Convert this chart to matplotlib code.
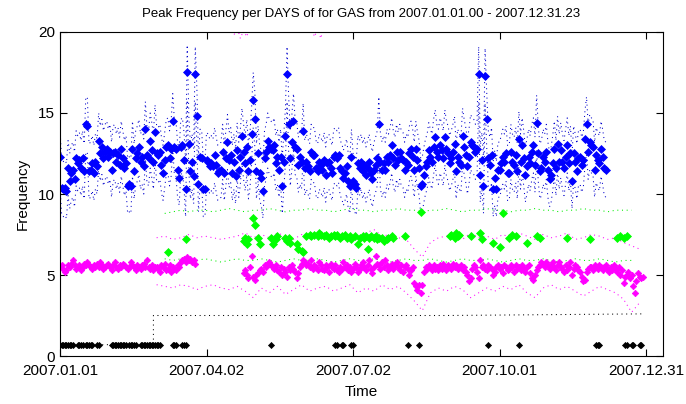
import numpy as np
import matplotlib
matplotlib.use("Agg")
import matplotlib.pyplot as plt

# x axis is day-of-year 2007 (day 0 = 2007.01.01)
tick_days = [0, 91, 182, 273, 364]
tick_labels = ["2007.01.01", "2007.04.02", "2007.07.02", "2007.10.01", "2007.12.31"]

# blue: one value per day, day 0..339
blue_vals = [
    12.3, 10.4, 10.3, 10.4, 10.2, 11.6, 10.8, 11.3, 11.5, 10.9,
    12.2, 11.9, 12.1, 11.6, 12.2, 11.4, 14.3, 14.2, 11.4, 11.5,
    11.9, 11.3, 12.0, 11.7, 13.3, 12.5, 12.9, 12.2, 12.6, 12.8,
    12.3, 12.6, 11.5, 12.5, 12.6, 12.0, 12.4, 11.8, 12.8, 12.2,
    11.6, 11.9, 10.5, 10.6, 10.5, 12.8, 11.4, 12.2, 12.5, 12.9,
    12.0, 12.3, 11.7, 14.0, 12.4, 12.2, 13.3, 12.7, 12.0, 13.8,
    12.5, 12.4, 12.6, 11.8, 11.3, 12.1, 12.9, 13.0, 12.2, 12.8,
    14.5, 12.9, 12.8, 11.5, 11.0, 12.9, 13.0, 12.1, 10.3, 17.5,
    13.1, 11.4, 12.0, 11.1, 17.4, 14.8, 10.6, 12.3, 12.2, 10.3,
    10.3, 12.1, 12.0, 11.7, 11.9, 11.7, 12.4, 11.8, 11.3, 11.4,
    11.5, 12.6, 11.3, 12.2, 13.2, 12.1, 12.4, 11.3, 12.0, 11.1,
    12.7, 11.5, 12.3, 13.6, 12.6, 11.9, 12.9, 11.4, 12.1, 13.7,
    15.8, 14.6, 11.4, 12.5, 11.3, 11.0, 10.2, 12.2, 12.6, 13.3,
    12.9, 12.8, 12.7, 13.0, 11.9, 12.3, 11.5, 12.3, 10.5, 12.0,
    13.6, 17.4, 14.3, 12.2, 13.2, 14.5, 12.9, 12.8, 11.8, 12.3,
    12.0, 13.9, 11.6, 12.0, 11.7, 11.4, 12.6, 12.4, 12.4, 11.6,
    11.4, 12.0, 11.8, 11.5, 12.1, 11.2, 11.9, 12.0, 11.6, 11.3,
    12.3, 12.4, 12.2, 12.4, 11.6, 11.4, 11.0, 11.3, 11.7, 10.8,
    10.5, 12.3, 10.8, 10.6, 10.4, 11.9, 11.6, 12.0, 11.4, 11.8,
    11.2, 11.6, 12.0, 11.3, 10.9, 11.5, 11.8, 12.2, 14.3, 12.0,
    11.5, 11.9, 11.5, 12.3, 12.0, 12.4, 13.0, 12.2, 11.8, 12.6,
    12.1, 12.6, 12.2, 12.1, 11.5, 12.0, 11.8, 12.5, 12.8, 12.3,
    11.5, 12.8, 12.1, 11.6, 10.5, 10.6, 11.2, 11.7, 12.0, 12.7,
    12.3, 12.0, 12.9, 13.5, 12.6, 12.3, 13.0, 12.7, 12.2, 13.5,
    12.8, 12.5, 11.9, 12.2, 12.6, 13.1, 11.4, 12.3, 12.0, 11.8,
    13.6, 12.9, 12.4, 11.7, 12.3, 13.2, 13.0, 12.9, 12.6, 12.8,
    17.4, 11.2, 12.1, 10.5, 17.3, 14.6, 12.2, 11.8, 12.4, 10.3,
    11.0, 10.3, 11.5, 11.5, 11.9, 12.3, 12.0, 12.5, 11.3, 11.3,
    12.6, 12.0, 11.8, 12.4, 11.4, 13.4, 12.0, 13.0, 12.2, 11.2,
    11.7, 12.3, 11.9, 12.6, 13.0, 11.8, 14.4, 12.5, 11.4, 11.6,
    12.3, 12.0, 12.6, 11.5, 10.9, 11.2, 11.9, 12.8, 11.6, 13.1,
    12.0, 12.7, 12.0, 11.6, 12.3, 13.0, 11.9, 12.5, 10.8, 12.5,
    12.0, 11.4, 12.2, 12.3, 11.8, 12.1, 13.4, 14.3, 12.6, 13.2,
    13.0, 12.9, 11.5, 12.4, 12.1, 11.9, 12.8, 12.3, 11.6, 11.5,
]
blue_spread = 1.7

# magenta: days 0..84 and 114..362
mag_start_a = 0
mag_vals_a = [
    5.5, 5.6, 5.4, 5.2, 5.3, 5.6, 5.5, 5.7, 5.9, 5.6,
    5.4, 5.5, 5.6, 5.3, 5.5, 5.7, 5.6, 5.8, 5.6, 5.5,
    5.4, 5.6, 5.5, 5.7, 5.5, 5.8, 5.6, 5.4, 5.5, 5.6,
    5.7, 5.5, 5.3, 5.6, 5.8, 5.5, 5.4, 5.6, 5.5, 5.7,
    5.6, 5.5, 5.4, 5.5, 5.8, 5.6, 5.5, 5.3, 5.6, 5.5,
    5.4, 5.6, 5.7, 5.5, 5.9, 5.5, 5.4, 5.6, 5.3, 5.5,
    5.5, 5.4, 5.2, 5.6, 5.5, 5.7, 5.3, 5.4, 5.6, 5.2,
    5.5, 5.4, 5.3, 5.6, 5.5, 5.8, 5.9, 6.0, 5.8, 6.1,
    5.9, 6.0, 5.8, 5.9, 5.7,
]
mag_start_b = 114
mag_vals_b = [
    5.1, 5.3, 5.0, 4.8, 5.5, 6.2, 4.9, 4.7, 5.0, 5.1,
    5.3, 5.4, 5.2, 5.6, 5.5, 5.7, 5.8, 5.6, 5.5, 5.4,
    5.6, 5.3, 5.2, 5.5, 5.0, 5.4, 5.2, 4.9, 5.5, 5.3,
    5.6, 5.4, 5.2, 4.8, 5.1, 5.5, 5.7, 5.9, 5.8, 5.6,
    5.7, 5.5, 5.9, 5.4, 5.6, 5.5, 5.3, 5.8, 5.6, 5.4,
    5.3, 5.6, 5.5, 5.2, 5.7, 5.5, 5.4, 5.6, 5.3, 5.2,
    5.5, 5.4, 5.8, 5.5, 5.6, 5.3, 5.5, 5.2, 5.4, 5.7,
    5.5, 5.2, 5.4, 5.6, 5.8, 5.5, 5.3, 5.6, 5.9, 5.4,
    5.1, 5.5, 6.2, 5.7, 5.6, 5.4, 5.8, 5.5, 5.9, 5.6,
    5.3, 5.5, 5.7, 5.4, 5.6, 5.8, 5.5, 5.3, 5.6, 5.2,
    5.5, 5.6, 5.4, 5.0, 5.3, 5.5, 4.5, 4.3, 4.1, 4.4,
    3.9, 4.4, 5.2, 5.5, 5.4, 5.6, 5.5, 5.3, 5.6, 5.4,
    5.5, 5.3, 5.6, 5.4, 5.7, 5.5, 5.3, 5.6, 5.5, 5.4,
    5.7, 5.5, 5.6, 5.4, 5.5, 5.6, 5.3, 5.5, 5.2, 5.0,
    4.6, 4.8, 5.4, 5.6, 5.5, 5.2, 4.8, 5.9, 5.5, 5.6,
    5.4, 5.3, 5.6, 5.5, 5.4, 5.0, 5.2, 5.5, 5.6, 5.4,
    5.5, 5.1, 5.6, 5.5, 5.3, 5.4, 5.6, 5.5, 5.2, 5.6,
    5.4, 5.5, 5.3, 5.6, 5.4, 5.2, 5.5, 5.6, 5.1, 4.8,
    4.7, 5.0, 5.3, 5.5, 5.6, 5.8, 5.7, 5.5, 5.8, 5.6,
    5.4, 5.6, 5.8, 5.5, 5.3, 5.6, 5.8, 5.5, 5.4, 5.2,
    5.6, 5.3, 5.5, 5.8, 5.0, 5.4, 5.6, 5.5, 5.3, 5.2,
    4.9, 4.6, 4.7, 5.2, 5.4, 5.5, 5.5, 5.3, 5.6, 5.5,
    5.4, 5.6, 5.5, 5.3, 5.5, 5.6, 5.4, 5.2, 5.5, 5.3,
    5.6, 5.4, 5.2, 5.5, 5.0, 5.3, 4.5, 4.9, 5.0, 5.2,
    4.8, 5.0, 4.3, 3.9, 4.6, 5.1, 4.9, 4.8, 4.9,
]
# magenta dotted bounds, read every 5 days from day 60 to 360
mag_bound_start = 60
mag_upper = [
    7.3, 7.4, 7.2, 7.3, 7.5, 7.3, 7.4, 7.3, 7.2, 7.3,
    7.4, 7.6, 7.3, 7.5, 7.3, 7.6, 7.4, 7.2, 7.5, 7.4,
    7.6, 7.3, 7.4, 7.2, 7.5, 7.3, 7.6, 7.8, 7.4, 7.5,
    7.3, 7.2, 6.6, 6.1, 7.0, 7.3, 7.4, 7.5, 7.2, 7.6,
    7.3, 7.4, 7.2, 7.5, 7.3, 7.6, 7.4, 7.2, 7.5, 7.3,
    7.4, 7.6, 7.2, 7.3, 7.5, 7.4, 7.2, 7.3, 7.0, 6.8,
    6.6,
]
mag_lower = [
    4.4, 4.3, 4.2, 4.4, 4.3, 4.1, 4.3, 4.4, 4.2, 4.1,
    4.3, 4.0, 3.6, 4.2, 3.9, 4.3, 3.8, 4.1, 4.4, 4.0,
    4.2, 4.3, 4.0, 4.2, 4.4, 3.9, 4.2, 4.0, 4.4, 4.1,
    4.3, 3.9, 3.4, 2.8, 3.9, 4.2, 4.0, 4.3, 4.1, 3.6,
    3.9, 4.2, 4.0, 4.3, 4.1, 4.4, 3.9, 3.6, 4.2, 4.4,
    4.1, 4.3, 4.0, 3.7, 4.0, 4.3, 4.1, 3.9, 3.5, 2.7,
    3.3,
]
# magenta bound excursions clipped at the top of the axes
mag_top_days_1 = [106, 108, 110, 112, 114, 116, 118]
mag_top_vals_1 = [20.6, 19.8, 20.3, 19.6, 20.1, 19.7, 20.5]
mag_top_days_2 = [156, 158, 160, 162, 164]
mag_top_vals_2 = [20.4, 19.7, 20.2, 19.6, 20.5]

# green points
green_days = [
    67, 78, 114, 115, 116, 117, 120, 121, 123, 124,
    131, 132, 134, 135, 140, 141, 142, 143, 147, 148,
    150, 151, 153, 155, 156, 158, 160, 161, 162, 164,
    165, 167, 168, 170, 171, 172, 174, 175, 177, 178,
    180, 181, 183, 185, 186, 188, 189, 190, 191, 192,
    193, 195, 196, 197, 198, 200, 201, 203, 204, 206,
    207, 214, 224, 242, 243, 245, 246, 247, 248, 255,
    261, 262, 269, 273, 275, 279, 281, 283, 290, 296,
    298, 315, 329, 346, 348, 350, 352,
]
green_vals = [
    6.4, 7.2, 7.1, 7.3, 6.9, 7.2, 8.5, 8.1, 7.3, 6.9,
    7.3, 6.9, 7.2, 7.4, 7.3, 7.1, 7.3, 7.0, 6.9, 6.6,
    6.5, 6.4, 7.4, 7.5, 7.4, 7.5, 7.4, 7.6, 7.5, 7.4,
    7.5, 7.3, 7.4, 7.5, 7.4, 7.5, 7.3, 7.4, 7.5, 7.3,
    7.4, 7.2, 7.4, 6.9, 7.3, 7.4, 7.3, 7.4, 6.6, 7.3,
    7.4, 7.3, 7.4, 7.2, 7.3, 7.3, 7.1, 7.2, 7.3, 7.4,
    7.3, 7.4, 8.9, 7.4, 7.5, 7.3, 7.6, 7.4, 7.5, 7.4,
    7.6, 7.2, 7.0, 6.7, 8.8, 7.3, 7.5, 7.4, 7.0, 7.4,
    7.3, 7.3, 7.2, 7.3, 7.4, 7.3, 7.4,
]
# green dotted bounds, every 5 days from day 65 to 355
green_bound_start = 65
green_upper = [
    8.8, 8.9, 9.0, 8.9, 9.0, 9.0, 8.9, 9.0, 9.1, 9.0,
    8.9, 9.0, 9.0, 9.1, 9.0, 8.9, 9.0, 9.0, 9.1, 9.0,
    9.0, 8.9, 9.0, 9.1, 9.0, 9.0, 8.9, 9.0, 9.0, 9.1,
    9.0, 9.0, 8.9, 9.0, 9.0, 9.1, 9.0, 8.9, 9.0, 9.0,
    9.1, 9.0, 9.0, 8.9, 9.0, 9.0, 9.1, 9.0, 9.0, 8.9,
    9.0, 9.0, 9.1, 9.0, 9.0, 8.9, 9.0, 9.0, 9.0,
]
green_lower = [
    6.0, 5.9, 6.0, 5.9, 5.9, 6.0, 5.9, 5.8, 5.9, 6.0,
    5.9, 5.9, 6.0, 5.9, 5.8, 5.9, 6.0, 5.9, 5.9, 6.0,
    5.9, 5.8, 5.9, 6.0, 5.9, 5.9, 6.0, 5.9, 5.8, 5.9,
    6.0, 5.9, 5.9, 6.0, 5.9, 5.8, 5.9, 6.0, 5.9, 5.9,
    6.0, 5.9, 5.8, 5.9, 6.0, 5.9, 5.9, 6.0, 5.9, 5.8,
    5.9, 6.0, 5.9, 5.9, 6.0, 5.9, 5.8, 5.9, 5.9,
]

# black points (all sit at the same level)
black_days = [
    0, 1, 2, 3, 4, 5, 6, 7, 8, 11, 12, 13, 14, 16, 17, 18, 19, 20, 23, 24,
    32, 33, 34, 35, 36, 37, 38, 39, 40, 41, 43, 44, 45, 46, 47,
    50, 51, 52, 53, 54, 55, 56, 57, 58, 59, 60, 61, 62,
    70, 71, 72, 76, 77, 78, 131, 171, 172, 175, 176, 181, 182,
    216, 223, 266, 285, 333, 334, 335, 351, 352, 355, 356, 360, 361,
]
black_level = 0.7
black_bound_days = [0, 58, 58, 120, 240, 361]
black_bound_vals = [0.7, 0.7, 2.5, 2.5, 2.5, 2.6]

plt.rcParams['font.family'] = ['Liberation Sans', 'DejaVu Sans']

fig = plt.figure(figsize=(6.86, 4.04), dpi=100)
ax = fig.add_axes([0.0875, 0.1188, 0.879, 0.802])

dot = (0, (1, 3.5))
dlw = 0.75
blue_days = np.arange(len(blue_vals))
blue = np.array(blue_vals)
mag_days_a = np.arange(mag_start_a, mag_start_a + len(mag_vals_a))
mag_days_b = np.arange(mag_start_b, mag_start_b + len(mag_vals_b))
mag_bound_days = mag_bound_start + 5 * np.arange(len(mag_upper))
green_bound_days = green_bound_start + 5 * np.arange(len(green_upper))

# dotted bounds
ax.plot(blue_days, blue + blue_spread, color='#0000cc', ls=dot, lw=dlw)
ax.plot(blue_days, blue - blue_spread, color='#0000cc', ls=dot, lw=dlw)
ax.plot(mag_bound_days, mag_upper, color='#ff00ff', ls=dot, lw=dlw)
ax.plot(mag_bound_days, mag_lower, color='#ff00ff', ls=dot, lw=dlw)
ax.plot(mag_top_days_1, mag_top_vals_1, color='#ff00ff', ls=dot, lw=dlw)
ax.plot(mag_top_days_2, mag_top_vals_2, color='#ff00ff', ls=dot, lw=dlw)
ax.plot(green_bound_days, green_upper, color='#00ee00', ls=dot, lw=dlw)
ax.plot(green_bound_days, green_lower, color='#00ee00', ls=dot, lw=dlw)
ax.plot(black_bound_days, black_bound_vals, color='black', ls=dot, lw=dlw)

# markers
ax.plot(blue_days, blue, 'D', color='#0000ff', ms=3.6, mew=0.5)
ax.plot(mag_days_a, mag_vals_a, 'D', color='#ff00ff', ms=3.3, mew=0.5)
ax.plot(mag_days_b, mag_vals_b, 'D', color='#ff00ff', ms=3.3, mew=0.5)
ax.plot(green_days, green_vals, 'D', color='#00ff00', ms=3.6, mew=0.5)
ax.plot(black_days, [black_level] * len(black_days), 'D', color='black', ms=3.1, mew=0.5)

ax.set_xlim(0, 374.5)
ax.set_ylim(0, 20)
ax.set_xticks(tick_days)
ax.set_xticklabels(tick_labels)
ax.set_yticks([0, 5, 10, 15, 20])
ax.tick_params(direction='in', top=True, right=True, length=5, labelsize=11, width=0.8)
ax.tick_params(axis='x', pad=6)
for s in ax.spines.values():
    s.set_linewidth(0.8)

ax.set_title("Peak Frequency per DAYS of for GAS from 2007.01.01.00 - 2007.12.31.23",
             fontsize=9.5, pad=11)
ax.set_xlabel("Time", fontsize=11, labelpad=5)
ax.set_ylabel("Frequency", fontsize=11, labelpad=6)

fig.savefig("out.png", dpi=100)
